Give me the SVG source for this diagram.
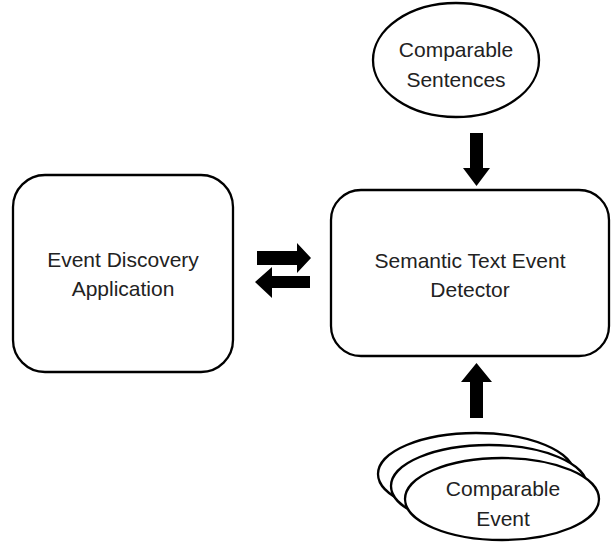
<svg xmlns="http://www.w3.org/2000/svg" width="611" height="549" viewBox="0 0 611 549">
<style>
.shape{fill:#fff;stroke:#000;stroke-width:2.3}
.lbl{font-family:"Liberation Sans","Open Sans",sans-serif;font-size:21px;fill:#222;text-anchor:middle}
.arr{fill:#000}
</style>
<rect width="611" height="549" fill="#fff"/>
<g id="event-discovery-application">
<rect class="shape" x="13" y="175" width="220" height="197" rx="32"/>
<text class="lbl" x="123" y="267">Event Discovery</text>
<text class="lbl" x="123" y="296">Application</text>
</g>
<g id="semantic-text-event-detector">
<rect class="shape" x="331" y="190" width="278" height="166" rx="30"/>
<text class="lbl" x="470" y="268">Semantic Text Event</text>
<text class="lbl" x="470" y="297">Detector</text>
</g>
<g id="comparable-sentences">
<ellipse class="shape" cx="456" cy="60" rx="83" ry="57"/>
<text class="lbl" x="456" y="57">Comparable</text>
<text class="lbl" x="456" y="87">Sentences</text>
</g>
<g id="comparable-event">
<ellipse class="shape" cx="476" cy="474" rx="98" ry="41"/>
<ellipse class="shape" cx="489" cy="486" rx="98" ry="41"/>
<ellipse class="shape" cx="502" cy="499" rx="97" ry="41"/>
<text class="lbl" x="503" y="496">Comparable</text>
<text class="lbl" x="503" y="526">Event</text>
</g>
<g id="connectors">
<polygon class="arr" points="470,133 483,133 483,168 490,168 476.5,186 463,168 470,168"/>
<polygon class="arr" points="470,418 483,418 483,382 492,382 476.5,363 461,382 470,382"/>
<polygon class="arr" points="257,251 297,251 297,243 311,258 297,273 297,265 257,265"/>
<polygon class="arr" points="310,276 272,276 272,267 255,282 272,298 272,288 310,288"/>
</g>
</svg>
